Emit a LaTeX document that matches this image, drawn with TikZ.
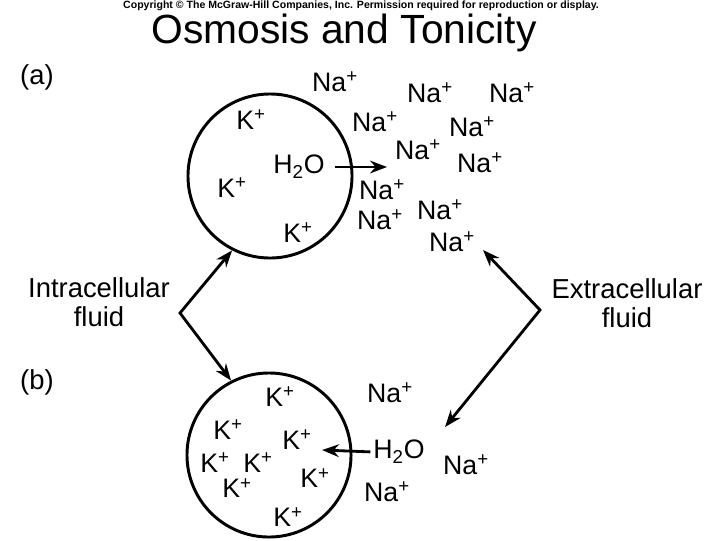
\documentclass[tikz,border=0pt]{standalone}
\usepackage{fontspec}
\setmainfont{Liberation Sans}
\usetikzlibrary{arrows.meta}

\newcommand{\ionp}[1]{#1\textsuperscript{+}}

\begin{document}
\begin{tikzpicture}[
    x=0.025cm, y=-0.025cm,
    ion/.style={
        inner sep=0pt,
        font=\fontsize{19}{21}\selectfont
    },
    lbl/.style={
        inner sep=0pt,
        align=center,
        font=\fontsize{19.5}{20.5}\selectfont
    },
    cell/.style={
        draw,
        circle,
        inner sep=0pt,
        minimum size=4.1cm,
        line width=2.1pt
    },
    arrow/.style={
        -{Stealth[length=12pt,width=9pt]},
        line width=2pt
    },
    fork/.style={
        {Stealth[length=12pt,width=9pt]}-{Stealth[length=12pt,width=9pt]},
        line width=2pt,
        line join=miter
    }
]
\useasboundingbox (0,0) rectangle (720,540);

% Header
\node (copyright) [inner sep=0pt, font=\fontsize{7.5}{8}\selectfont\bfseries] at (361,6)
    {Copyright \textcopyright{} The McGraw-Hill Companies, Inc. Permission required for reproduction or display.};
\node (title) [anchor=base, inner sep=0pt, font=\fontsize{29}{30}\selectfont] at (344,43) {Osmosis and Tonicity};
\node (parta) [lbl] at (37,77) {(a)};
\node (partb) [lbl] at (37,382) {(b)};

% Cells
\node (cellA) [cell] at (270,176) {};
\node (cellB) [cell] at (269,455) {};

% Ions, part (a)
\foreach \x/\y [count=\i] in {251/120, 232/188, 298/233}
    \node (kA\i) [ion] at (\x,\y) {\ionp{K}};
\foreach \x/\y [count=\i] in {335/82, 430/93, 512/93, 375/122, 472/127, 418/150,
                              480/163, 382/190, 380/220, 440/210, 452/242}
    \node (naA\i) [ion] at (\x,\y) {\ionp{Na}};
\node (h2oA) [ion] at (299,167) {H\textsubscript{2}O};

% Ions, part (b)
\foreach \x/\y [count=\i] in {280/397, 228/430, 297/440, 215/463, 258/463,
                              237/488, 315/478, 288/517}
    \node (kB\i) [ion] at (\x,\y) {\ionp{K}};
\foreach \x/\y [count=\i] in {390/393, 466/465, 387/492}
    \node (naB\i) [ion] at (\x,\y) {\ionp{Na}};
\node (h2oB) [ion] at (399,452) {H\textsubscript{2}O};

% Fluid labels
\node (intra) [lbl] at (99,302) {Intracellular\\fluid};
\node (extra) [lbl] at (627,303) {Extracellular\\fluid};

\coordinate (intraV) at (180,313);
\coordinate (extraV) at (540,310);
\coordinate (naTip) at (483,250);
\coordinate (extTip) at (445,427);
\coordinate (h2oAtip) at (387,167);
\coordinate (h2oBtip) at (322,450);

% Paths
\draw [arrow, shorten <=7pt] (h2oA.east) -- (h2oAtip);
\draw [arrow, shorten <=2pt] (h2oB.west) -- (h2oBtip);
\draw [fork] (cellA.243) -- (intraV) -- (cellB.117);
\draw [fork] (naTip) -- (extraV) -- (extTip);

\end{tikzpicture}
\end{document}
